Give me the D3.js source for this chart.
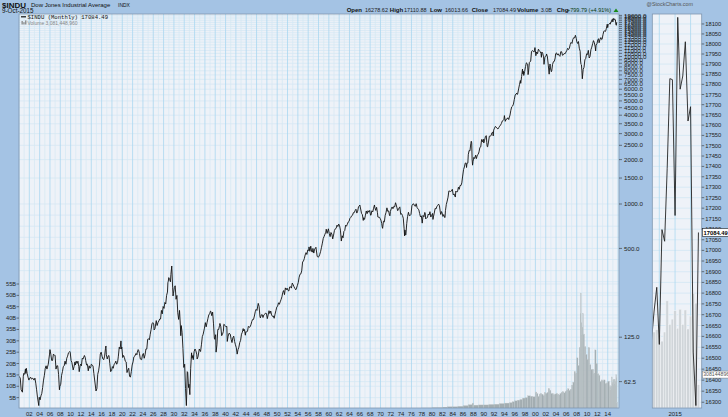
<!DOCTYPE html>
<html><head><meta charset="utf-8">
<script src="https://cdn.jsdelivr.net/npm/d3@7"></script>
<style>
html,body{margin:0;padding:0;background:#a4c3e4;}
svg{display:block;font-family:"Liberation Sans",Arial,sans-serif;}
</style>
</head><body>
<svg id="c" width="728" height="417"></svg>
<script>
// ---------------- DATA ----------------
const djiaMonthly = [
["1900-01",68],["1900-04",66],["1900-06",55],["1900-09",53],["1900-11",68],["1900-12",71],
["1901-02",70],["1901-04",76],["1901-05",71],["1901-06",77],["1901-08",71],["1901-10",67],["1901-12",64],
["1902-02",66],["1902-04",67],["1902-06",65],["1902-09",66],["1902-12",64],
["1903-02",66],["1903-04",61],["1903-06",55],["1903-08",49],["1903-11",43],["1903-12",49],
["1904-02",47],["1904-04",50],["1904-06",52],["1904-08",57],["1904-10",64],["1904-12",69],
["1905-02",77],["1905-04",80],["1905-06",76],["1905-09",82],["1905-12",96],
["1906-01",103],["1906-03",96],["1906-05",87],["1906-07",87],["1906-09",96],["1906-12",94],
["1907-01",94],["1907-03",76],["1907-05",80],["1907-07",80],["1907-09",70],["1907-11",55],["1907-12",58],
["1908-02",60],["1908-04",69],["1908-06",73],["1908-08",79],["1908-10",80],["1908-12",86],
["1909-02",82],["1909-04",90],["1909-06",93],["1909-08",98],["1909-10",99],["1909-11",100],["1909-12",99],
["1910-02",87],["1910-04",84],["1910-07",75],["1910-09",79],["1910-11",85],["1910-12",81],
["1911-02",86],["1911-04",83],["1911-06",86],["1911-08",79],["1911-09",73],["1911-11",80],["1911-12",82],
["1912-02",80],["1912-04",90],["1912-06",89],["1912-09",94],["1912-11",91],["1912-12",87],
["1913-02",81],["1913-04",82],["1913-06",74],["1913-08",80],["1913-10",77],["1913-12",79],
["1914-01",82],["1914-03",81],["1914-05",80],["1914-07",71],["1914-12",54],
["1915-02",56],["1915-04",70],["1915-06",74],["1915-08",81],["1915-10",96],["1915-12",99],
["1916-02",93],["1916-04",89],["1916-06",88],["1916-08",93],["1916-10",105],["1916-11",109],["1916-12",95],
["1917-02",89],["1917-04",93],["1917-06",94],["1917-08",83],["1917-10",73],["1917-12",74],
["1918-02",79],["1918-04",77],["1918-06",82],["1918-08",83],["1918-10",86],["1918-12",82],
["1919-02",84],["1919-04",93],["1919-06",107],["1919-08",104],["1919-10",118],["1919-11",104],["1919-12",107],
["1920-02",91],["1920-04",94],["1920-06",91],["1920-08",86],["1920-10",85],["1920-12",72],
["1921-02",75],["1921-04",77],["1921-06",68],["1921-08",67],["1921-10",73],["1921-12",81],
["1922-02",85],["1922-04",92],["1922-06",93],["1922-09",97],["1922-11",95],["1922-12",99],
["1923-02",103],["1923-03",102],["1923-05",97],["1923-07",89],["1923-10",88],["1923-12",95],
["1924-02",97],["1924-04",90],["1924-06",95],["1924-08",104],["1924-10",104],["1924-12",121],
["1925-02",122],["1925-04",120],["1925-06",131],["1925-08",141],["1925-10",154],["1925-12",157],
["1926-02",154],["1926-03",140],["1926-05",143],["1926-08",162],["1926-10",150],["1926-12",157],
["1927-02",161],["1927-04",166],["1927-06",166],["1927-08",190],["1927-10",180],["1927-12",202],
["1928-02",196],["1928-04",215],["1928-06",210],["1928-08",240],["1928-10",253],["1928-11",293],["1928-12",300],
["1929-01",317],["1929-03",308],["1929-05",297],["1929-06",333],["1929-08",380],["1929-10",273],["1929-11",238],["1929-12",248],
["1930-02",272],["1930-04",279],["1930-06",226],["1930-08",240],["1930-10",183],["1930-12",165],
["1931-02",190],["1931-04",151],["1931-05",128],["1931-06",150],["1931-08",135],["1931-10",105],["1931-12",78],
["1932-02",82],["1932-04",56],["1932-06",43],["1932-07",54],["1932-08",73],["1932-09",72],["1932-11",57],["1932-12",60],
["1933-02",51],["1933-04",77],["1933-06",98],["1933-07",90],["1933-09",94],["1933-10",88],["1933-12",100],
["1934-02",104],["1934-04",101],["1934-06",96],["1934-07",89],["1934-09",92],["1934-12",104],
["1935-02",101],["1935-03",100],["1935-05",111],["1935-07",126],["1935-09",131],["1935-12",144],
["1936-02",157],["1936-04",147],["1936-06",157],["1936-08",167],["1936-10",177],["1936-12",180],
["1937-02",188],["1937-03",187],["1937-05",175],["1937-07",185],["1937-09",154],["1937-11",123],["1937-12",121],
["1938-02",130],["1938-03",99],["1938-05",111],["1938-07",141],["1938-09",141],["1938-11",150],["1938-12",155],
["1939-02",147],["1939-04",128],["1939-06",131],["1939-08",137],["1939-09",153],["1939-12",150],
["1940-02",147],["1940-04",148],["1940-05",117],["1940-07",127],["1940-09",133],["1940-12",131],
["1941-02",121],["1941-04",115],["1941-06",124],["1941-08",127],["1941-10",117],["1941-12",111],
["1942-02",106],["1942-04",96],["1942-06",103],["1942-08",107],["1942-10",115],["1942-12",119],
["1943-02",131],["1943-04",135],["1943-06",143],["1943-07",138],["1943-09",141],["1943-11",129],["1943-12",136],
["1944-02",136],["1944-04",137],["1944-06",148],["1944-08",146],["1944-10",147],["1944-12",152],
["1945-02",160],["1945-04",165],["1945-06",165],["1945-08",174],["1945-10",186],["1945-12",193],
["1946-02",190],["1946-05",212],["1946-07",202],["1946-09",172],["1946-10",169],["1946-12",177],
["1947-02",178],["1947-04",170],["1947-06",177],["1947-08",179],["1947-10",182],["1947-12",181],
["1948-02",167],["1948-04",177],["1948-06",189],["1948-08",181],["1948-10",188],["1948-12",177],
["1949-02",173],["1949-04",174],["1949-06",168],["1949-08",179],["1949-10",189],["1949-12",200],
["1950-02",203],["1950-04",214],["1950-06",209],["1950-08",217],["1950-10",225],["1950-12",235],
["1951-02",252],["1951-04",259],["1951-06",243],["1951-08",270],["1951-10",262],["1951-12",269],
["1952-02",260],["1952-04",257],["1952-06",274],["1952-08",275],["1952-10",269],["1952-12",291],
["1953-02",284],["1953-04",275],["1953-06",268],["1953-08",262],["1953-09",264],["1953-12",281],
["1954-02",294],["1954-04",319],["1954-06",334],["1954-08",336],["1954-10",352],["1954-12",404],
["1955-02",411],["1955-04",426],["1955-06",451],["1955-08",468],["1955-10",455],["1955-12",488],
["1956-02",484],["1956-03",512],["1956-05",478],["1956-07",518],["1956-09",475],["1956-11",473],["1956-12",500],
["1957-02",465],["1957-04",494],["1957-06",503],["1957-07",509],["1957-10",441],["1957-12",436],
["1958-02",440],["1958-04",456],["1958-06",478],["1958-08",509],["1958-10",543],["1958-12",584],
["1959-02",603],["1959-04",624],["1959-06",644],["1959-07",675],["1959-09",632],["1959-12",679],
["1960-02",630],["1960-04",601],["1960-06",641],["1960-08",626],["1960-10",580],["1960-12",616],
["1961-02",662],["1961-04",679],["1961-06",684],["1961-08",719],["1961-10",704],["1961-12",731],
["1962-02",711],["1962-04",665],["1962-06",561],["1962-08",609],["1962-10",590],["1962-12",652],
["1963-02",662],["1963-04",718],["1963-06",707],["1963-08",729],["1963-10",755],["1963-12",763],
["1964-02",800],["1964-04",811],["1964-06",832],["1964-08",839],["1964-10",873],["1964-12",874],
["1965-02",903],["1965-04",922],["1965-06",868],["1965-08",893],["1965-10",960],["1965-12",969],
["1966-01",984],["1966-03",925],["1966-05",864],["1966-07",847],["1966-09",774],["1966-10",807],["1966-12",786],
["1967-02",840],["1967-04",897],["1967-06",860],["1967-08",901],["1967-10",880],["1967-12",905],
["1968-02",840],["1968-03",840],["1968-05",899],["1968-07",883],["1968-09",936],["1968-11",985],["1968-12",944],
["1969-02",905],["1969-04",950],["1969-06",873],["1969-07",816],["1969-09",813],["1969-11",812],["1969-12",800],
["1970-02",778],["1970-04",736],["1970-05",700],["1970-06",684],["1970-08",765],["1970-10",756],["1970-12",839],
["1971-02",879],["1971-04",942],["1971-06",892],["1971-08",898],["1971-10",839],["1971-11",831],["1971-12",890],
["1972-02",928],["1972-04",955],["1972-06",929],["1972-08",964],["1972-10",956],["1972-12",1020],
["1973-01",999],["1973-03",951],["1973-05",901],["1973-07",926],["1973-09",947],["1973-10",956],["1973-12",851],
["1974-02",860],["1974-04",837],["1974-06",802],["1974-08",679],["1974-09",608],["1974-10",666],["1974-11",619],["1974-12",616],
["1975-02",739],["1975-04",821],["1975-06",879],["1975-08",835],["1975-10",836],["1975-12",852],
["1976-02",973],["1976-04",997],["1976-06",1003],["1976-08",974],["1976-10",965],["1976-12",1005],
["1977-02",947],["1977-04",927],["1977-06",916],["1977-08",862],["1977-10",818],["1977-12",831],
["1978-02",742],["1978-04",837],["1978-06",819],["1978-08",877],["1978-09",866],["1978-10",793],["1978-12",805],
["1979-02",809],["1979-04",855],["1979-06",842],["1979-08",887],["1979-10",816],["1979-12",839],
["1980-02",863],["1980-03",786],["1980-04",817],["1980-06",868],["1980-08",933],["1980-10",925],["1980-12",964],
["1981-02",975],["1981-04",998],["1981-06",977],["1981-08",882],["1981-09",850],["1981-11",889],["1981-12",875],
["1982-02",824],["1982-04",848],["1982-06",812],["1982-07",809],["1982-08",901],["1982-10",992],["1982-12",1047],
["1983-02",1113],["1983-04",1226],["1983-06",1222],["1983-08",1216],["1983-10",1225],["1983-12",1259],
["1984-02",1155],["1984-04",1171],["1984-06",1132],["1984-07",1115],["1984-08",1224],["1984-10",1207],["1984-12",1212],
["1985-02",1300],["1985-04",1258],["1985-06",1336],["1985-08",1334],["1985-10",1390],["1985-12",1547],
["1986-02",1709],["1986-04",1784],["1986-06",1893],["1986-08",1898],["1986-09",1768],["1986-10",1878],["1986-12",1896],
["1987-01",2158],["1987-03",2305],["1987-05",2292],["1987-07",2573],["1987-08",2663],["1987-09",2596],["1987-10",1994],["1987-11",1834],["1987-12",1939],
["1988-02",2072],["1988-04",2033],["1988-06",2142],["1988-08",2032],["1988-10",2149],["1988-12",2169],
["1989-02",2259],["1989-04",2419],["1989-06",2440],["1989-08",2737],["1989-09",2693],["1989-10",2645],["1989-12",2753],
["1990-01",2591],["1990-03",2707],["1990-05",2877],["1990-07",2905],["1990-08",2614],["1990-09",2453],["1990-10",2442],["1990-12",2634],
["1991-02",2882],["1991-04",2888],["1991-06",2907],["1991-08",3044],["1991-10",3069],["1991-11",2895],["1991-12",3169],
["1992-02",3267],["1992-04",3359],["1992-06",3319],["1992-08",3257],["1992-10",3226],["1992-12",3301],
["1993-02",3371],["1993-04",3428],["1993-06",3516],["1993-08",3651],["1993-10",3681],["1993-12",3754],
["1994-01",3978],["1994-03",3636],["1994-05",3758],["1994-07",3765],["1994-09",3843],["1994-11",3739],["1994-12",3834],
["1995-02",4011],["1995-04",4321],["1995-06",4556],["1995-08",4611],["1995-10",4756],["1995-12",5117],
["1996-02",5485],["1996-04",5569],["1996-06",5655],["1996-07",5529],["1996-08",5616],["1996-10",6029],["1996-12",6448],
["1997-02",6877],["1997-03",6584],["1997-05",7331],["1997-07",8223],["1997-08",7622],["1997-09",7945],["1997-10",7442],["1997-12",7908],
["1998-02",8546],["1998-04",9063],["1998-06",8952],["1998-07",8883],["1998-08",7539],["1998-09",7843],["1998-11",9117],["1998-12",9181],
["1999-02",9307],["1999-04",10789],["1999-06",10971],["1999-08",10829],["1999-10",10729],["1999-12",11497],
["2000-01",10941],["2000-02",10128],["2000-04",10734],["2000-06",10448],["2000-08",11215],["2000-10",10971],["2000-12",10788],
["2001-02",10495],["2001-03",9879],["2001-04",10735],["2001-06",10502],["2001-08",9950],["2001-09",8848],["2001-11",9852],["2001-12",10022],
["2002-02",10106],["2002-03",10404],["2002-05",9925],["2002-07",8737],["2002-09",7592],["2002-10",8397],["2002-11",8896],["2002-12",8342],
["2003-02",7891],["2003-03",7992],["2003-05",8850],["2003-07",9233],["2003-09",9275],["2003-11",9782],["2003-12",10454],
["2004-02",10584],["2004-04",10226],["2004-06",10435],["2004-08",10174],["2004-10",10027],["2004-12",10783],
["2005-02",10766],["2005-04",10193],["2005-06",10275],["2005-08",10482],["2005-10",10440],["2005-12",10718],
["2006-02",10993],["2006-04",11367],["2006-06",11150],["2006-08",11381],["2006-10",12081],["2006-12",12463],
["2007-02",12269],["2007-04",13063],["2007-06",13409],["2007-08",13358],["2007-10",13930],["2007-12",13265],
["2008-01",12650],["2008-03",12263],["2008-05",12638],["2008-07",11378],["2008-09",10851],["2008-10",9325],["2008-11",8829],["2008-12",8776],
["2009-01",8001],["2009-02",7063],["2009-04",8168],["2009-06",8447],["2009-08",9496],["2009-10",9713],["2009-12",10428],
["2010-02",10325],["2010-04",11009],["2010-06",9774],["2010-08",10015],["2010-10",11118],["2010-12",11578],
["2011-02",12226],["2011-04",12811],["2011-06",12414],["2011-08",11614],["2011-09",10913],["2011-10",11955],["2011-12",12218],
["2012-02",12952],["2012-04",13214],["2012-05",12393],["2012-07",13009],["2012-09",13437],["2012-11",13026],["2012-12",13104],
["2013-02",14054],["2013-04",14840],["2013-06",14910],["2013-08",14810],["2013-10",15546],["2013-12",16577],
["2014-01",15699],["2014-02",16322],["2014-03",16458],["2014-04",16581],["2014-05",16717],["2014-06",16827],
["2014-07",16563],["2014-08",17098],["2014-09",17043],["2014-10",17391],["2014-11",17828],["2014-12",17823],
["2015-01",17165],["2015-02",18133],["2015-03",17776],["2015-04",17841],["2015-05",18011],["2015-06",17620],
["2015-07",17690],["2015-08",16528],["2015-09",16285],["2015-10",17084.49]
];

// volume, billions of shares per month (long history, coarse periods)
const volumeHistory = [
["1960-01",0.08],["1965-01",0.12],["1970-01",0.2],["1975-01",0.3],["1978-01",0.45],["1980-01",0.6],
["1982-01",0.8],["1983-01",1.0],["1984-01",1.0],["1985-01",1.2],["1986-01",1.5],["1987-01",1.9],["1987-10",2.6],
["1988-01",1.7],["1989-01",1.8],["1990-01",1.8],["1991-01",2.0],["1992-01",2.1],["1993-01",2.4],["1994-01",2.6],
["1995-01",2.8],["1995-07",3.2],["1996-01",3.6],["1996-07",3.9],["1997-01",4.2],["1997-07",4.8],["1998-01",5.0],
["1998-07",5.8],["1999-01",5.6],["1999-07",5.4],["2000-01",7.5],["2000-04",6.8],["2000-07",5.6],["2000-10",6.6],
["2001-01",6.8],["2001-04",6.5],["2001-07",5.9],["2001-10",7.2],["2002-01",6.9],["2002-04",7.2],["2002-07",9.0],
["2002-10",8.2],["2003-01",7.0],["2003-04",6.8],["2003-07",6.3],["2003-10",6.6],["2004-01",7.0],["2004-04",6.6],
["2004-07",6.2],["2004-10",6.9],["2005-01",7.4],["2005-04",7.6],["2005-07",7.1],["2005-10",7.8],["2006-01",8.4],
["2006-04",8.9],["2006-07",8.2],["2006-10",8.7],["2007-01",10.5],["2007-04",11.8],["2007-07",16.5],["2007-10",15.8],
["2008-01",22.5],["2008-04",19.0],["2008-07",27.0],["2008-09",42.0],["2008-10",51.0],["2008-11",38.0],["2008-12",33.0],
["2009-01",36.0],["2009-03",42.0],["2009-04",33.0],["2009-07",27.5],["2009-10",24.0],["2010-01",22.0],["2010-04",27.0],
["2010-07",19.5],["2010-10",17.5],["2011-01",17.5],["2011-04",15.8],["2011-07",26.0],["2011-10",20.0],["2012-01",15.5],
["2012-04",14.8],["2012-07",12.0],["2012-10",12.8],["2013-01",12.5],["2013-04",12.8],["2013-07",11.2],["2013-10",11.5],
["2014-01",12.2]
];
// recent monthly volume (billions), May 2014 - Oct 2015 (Oct partial)
const volumeRecent = [
["2014-05",10.0],["2014-06",10.3],["2014-07",9.6],["2014-08",8.8],["2014-09",10.0],["2014-10",14.1],
["2014-11",11.0],["2014-12",11.7],["2015-01",12.8],["2015-02",10.5],["2015-03",13.0],["2015-04",11.0],
["2015-05",12.9],["2015-06",10.4],["2015-07",12.1],["2015-08",15.1],["2015-09",13.8],["2015-10",3.08]
];

const priceTicks = [62.5,125,500,1000,1500,2000,2500,3000,3500,4000,4500,5000,5500,6000,6500,7000,7500,8000,8500,9000,
  9500,10000,10500,11000,11500,12000,12500,13000,13500,14000,14500,15000,15500,16000,16500,17000,17500,18000,18500,19000];
const volumeTicks = [5,10,15,20,25,30,35,40,45,50,55];
const yearLabels = [1902,1904,1906,1908,1910,1912,1914,1916,1918,1920,1922,1924,1926,1928,1930,1932,1934,1936,1938,1940,
  1942,1944,1946,1948,1950,1952,1954,1956,1958,1960,1962,1964,1966,1968,1970,1972,1974,1976,1978,1980,1982,1984,1986,
  1988,1990,1992,1994,1996,1998,2000,2002,2004,2006,2008,2010,2012,2014];
const zoomTicks = [16300,16350,16400,16450,16500,16550,16600,16650,16700,16750,16800,16850,16900,16950,17000,17050,17100,
  17150,17200,17250,17300,17350,17400,17450,17500,17550,17600,17650,17700,17750,17800,17850,17900,17950,18000,18050,18100];
const headerItems = [["Open","16278.62"],["High","17110.88"],["Low","16013.66"],["Close","17084.49"],["Volume","3.0B"],["Chg","+799.79 (+4.91%)"]];
const lastClose = 17084.49, lastVolume = 3081448960;

// ---------------- DRAWING ----------------
const svg = d3.select("#c");
const parse = s => { const [y,m] = s.split("-"); return new Date(Date.UTC(+y, +m-1, 1)); };
const price = djiaMonthly.map(([d,v]) => ({date: parse(d), v}));
const volAll = volumeHistory.concat(volumeRecent).map(([d,v]) => ({date: parse(d), v}));
const volRecent = volumeRecent.map(([d,v]) => ({date: parse(d), v}));

const M = {l:19, r:619, t:14, b:408};
const R = {l:652.3, r:701.7, t:14, b:408};

const x = d3.scaleUtc().domain([new Date(Date.UTC(1900,0,1)), new Date(Date.UTC(2016,2,10))]).range([M.l, M.r]);
const y = d3.scaleLog().domain([41.4, 19420]).range([M.b, M.t]);
const yV = d3.scaleLinear().domain([0,55]).range([409,284]);

const xr = d3.scaleUtc().domain([new Date(Date.UTC(2014,3,10)), new Date(Date.UTC(2015,10,8))]).range([R.l, R.r]);
const yr = d3.scaleLog().domain([16274, 18150]).range([R.b, R.t]);
const yrV = d3.scaleLinear().domain([0,15]).range([408,294]);

svg.append("rect").attr("width",728).attr("height",417).attr("fill","#a4c3e4");

const defs = svg.append("defs");
defs.append("clipPath").attr("id","mclip").append("rect").attr("x",M.l).attr("y",M.t).attr("width",M.r-M.l).attr("height",M.b-M.t);
defs.append("clipPath").attr("id","rclip").append("rect").attr("x",R.l).attr("y",R.t).attr("width",R.r-R.l).attr("height",R.b-R.t);

// ---- main panel
svg.append("rect").attr("x",M.l).attr("y",M.t).attr("width",M.r-M.l).attr("height",M.b-M.t).attr("fill","#eef2f8");
const gm = svg.append("g").attr("clip-path","url(#mclip)");

// horizontal grid
const hGrid = [];
for (let k=0;k<=16;k++) hGrid.push(62.5*Math.pow(2,k/4));
priceTicks.filter(t=>t>1000).forEach(t=>hGrid.push(t));
gm.selectAll("line.hg").data(hGrid).join("line")
  .attr("x1",M.l).attr("x2",M.r).attr("y1",d=>y(d)).attr("y2",d=>y(d))
  .attr("stroke","#d3e6f3").attr("stroke-width",0.7);
gm.selectAll("line.vg2").data(volumeTicks).join("line")
  .attr("x1",M.l).attr("x2",M.r).attr("y1",d=>yV(d)).attr("y2",d=>yV(d))
  .attr("stroke","#d3e6f3").attr("stroke-width",0.7);
// vertical grid
const years = d3.range(1900,2017);
gm.selectAll("line.vgo").data(years.filter(yy=>yy%2)).join("line")
  .attr("x1",d=>x(new Date(Date.UTC(d,0,1)))).attr("x2",d=>x(new Date(Date.UTC(d,0,1))))
  .attr("y1",M.t).attr("y2",M.b).attr("stroke","#d4e8f4").attr("stroke-width",0.7);
gm.selectAll("line.vge").data(years.filter(yy=>yy%2===0)).join("line")
  .attr("x1",d=>x(new Date(Date.UTC(d,0,1)))).attr("x2",d=>x(new Date(Date.UTC(d,0,1))))
  .attr("y1",M.t).attr("y2",M.b).attr("stroke","#a9d7f0").attr("stroke-width",0.8);

// volume bars
gm.selectAll("rect.vb").data(volAll).join("rect")
  .attr("x",d=>x(d.date))
  .attr("width",(d,i)=>{ const nx = i<volAll.length-1 ? volAll[i+1].date : new Date(Date.UTC(2015,10,1)); return Math.max(0.6, x(nx)-x(d.date)); })
  .attr("y",d=>yV(d.v)).attr("height",d=>409-yV(d.v))
  .attr("fill","#a3adb1").attr("stroke","#c3cbce").attr("stroke-width",0.3);

// price line
gm.append("path").datum(price)
  .attr("d", d3.line().x(d=>x(d.date)).y(d=>y(d.v)))
  .attr("fill","none").attr("stroke","#111").attr("stroke-width",0.9).attr("stroke-linejoin","round");

svg.append("rect").attr("x",M.l).attr("y",M.t).attr("width",M.r-M.l).attr("height",M.b-M.t)
  .attr("fill","none").attr("stroke","#8097b0").attr("stroke-width",0.8);

// right price axis
const ax = svg.append("g");
ax.selectAll("line").data(priceTicks).join("line")
  .attr("x1",M.r).attr("x2",M.r+3).attr("y1",d=>y(d)).attr("y2",d=>y(d)).attr("stroke","#333").attr("stroke-width",0.6);
ax.selectAll("text").data(priceTicks).join("text")
  .attr("x",M.r+5).attr("y",d=>y(d)).attr("dy","0.35em")
  .attr("font-size",6.2).attr("fill","#222").text(d=>d3.format(".1f")(d));

// left volume axis
const lax = svg.append("g");
lax.selectAll("line").data(volumeTicks).join("line")
  .attr("x1",M.l-2.5).attr("x2",M.l).attr("y1",d=>yV(d)).attr("y2",d=>yV(d)).attr("stroke","#333").attr("stroke-width",0.6);
lax.selectAll("text").data(volumeTicks).join("text")
  .attr("x",M.l-3).attr("y",d=>yV(d)).attr("dy","0.35em").attr("text-anchor","end")
  .attr("font-size",5.6).attr("fill","#222").text(d=>d+"B");

// x labels
svg.append("g").selectAll("text").data(yearLabels).join("text")
  .attr("x",d=>x(new Date(Date.UTC(d,0,1)))).attr("y",416).attr("text-anchor","middle")
  .attr("font-size",6).attr("fill","#222").text(d=>String(d).slice(2));

// legend in panel
svg.append("line").attr("x1",21).attr("x2",26).attr("y1",16.8).attr("y2",16.8).attr("stroke","#111").attr("stroke-width",1.2);
svg.append("text").attr("x",27.5).attr("y",18.8).attr("font-family","'Liberation Mono','DejaVu Sans Mono',monospace")
  .attr("font-size",5.6).attr("fill","#111").text("$INDU (Monthly) " + d3.format(".2f")(lastClose));
svg.append("rect").attr("x",21.5).attr("y",21).attr("width",1.3).attr("height",3.5).attr("fill","#888");
svg.append("rect").attr("x",23.3).attr("y",22.2).attr("width",1.3).attr("height",2.3).attr("fill","#888");
svg.append("rect").attr("x",25.1).attr("y",20.4).attr("width",1.3).attr("height",4.1).attr("fill","#888");
svg.append("text").attr("x",27.5).attr("y",24.6).attr("font-size",5).attr("fill","#888")
  .text("Volume " + d3.format(",")(lastVolume));

// ---- right zoom panel
svg.append("rect").attr("x",R.l).attr("y",R.t).attr("width",R.r-R.l).attr("height",R.b-R.t).attr("fill","#eef2f8");
const gr = svg.append("g").attr("clip-path","url(#rclip)");
gr.selectAll("line.h").data(zoomTicks).join("line")
  .attr("x1",R.l).attr("x2",R.r).attr("y1",d=>yr(d)).attr("y2",d=>yr(d)).attr("stroke","#cfe5f3").attr("stroke-width",0.7);
const zoomV = [new Date(Date.UTC(2014,6,1)), new Date(Date.UTC(2015,0,1)), new Date(Date.UTC(2015,6,1))];
gr.selectAll("line.v").data(zoomV).join("line")
  .attr("x1",d=>xr(d)).attr("x2",d=>xr(d)).attr("y1",R.t).attr("y2",R.b).attr("stroke","#acd8f0").attr("stroke-width",0.8);
const bw = xr(new Date(Date.UTC(2015,1,1))) - xr(new Date(Date.UTC(2015,0,1)));
gr.selectAll("rect.b").data(volRecent).join("rect")
  .attr("x",d=>xr(d.date)-bw/2).attr("width",bw)
  .attr("y",d=>yrV(d.v)).attr("height",d=>408-yrV(d.v))
  .attr("fill","#d0d5d9").attr("stroke","#f3f5f8").attr("stroke-width",0.5);
gr.append("path").datum(price.filter(d=>d.date>=new Date(Date.UTC(2014,2,1))))
  .attr("d", d3.line().x(d=>xr(d.date)).y(d=>yr(d.v)))
  .attr("fill","none").attr("stroke","#222").attr("stroke-width",0.9).attr("stroke-linejoin","round");
svg.append("rect").attr("x",R.l).attr("y",R.t).attr("width",R.r-R.l).attr("height",R.b-R.t)
  .attr("fill","none").attr("stroke","#8097b0").attr("stroke-width",0.8);

const rax = svg.append("g");
rax.selectAll("line").data(zoomTicks).join("line")
  .attr("x1",R.r).attr("x2",R.r+2.5).attr("y1",d=>yr(d)).attr("y2",d=>yr(d)).attr("stroke","#333").attr("stroke-width",0.6);
rax.selectAll("text").data(zoomTicks).join("text")
  .attr("x",R.r+3.5).attr("y",d=>yr(d)).attr("dy","0.35em").attr("font-size",5.8).attr("fill","#222").text(d=>d);
svg.append("text").attr("x",xr(new Date(Date.UTC(2015,0,1)))).attr("y",416).attr("text-anchor","middle")
  .attr("font-size",6).attr("fill","#222").text("2015");

// last price box
const ly = yr(lastClose);
svg.append("rect").attr("x",R.r+0.8).attr("y",ly-3.8).attr("width",27).attr("height",7.6)
  .attr("fill","#fff").attr("stroke","#222").attr("stroke-width",0.6);
svg.append("text").attr("x",R.r+1.8).attr("y",ly).attr("dy","0.36em").attr("font-size",5.8).attr("font-weight","bold")
  .attr("fill","#000").text(d3.format(".2f")(lastClose));
// last volume box
const lvy = yrV(lastVolume/1e9) - 10;
svg.append("rect").attr("x",R.r+0.8).attr("y",lvy-3.5).attr("width",28).attr("height",7)
  .attr("fill","#fff").attr("stroke","#777").attr("stroke-width",0.5);
svg.append("text").attr("x",R.r+1.5).attr("y",lvy).attr("dy","0.36em").attr("font-size",5.2)
  .attr("fill","#555").text(String(lastVolume));

// ---- header
svg.append("text").attr("x",2).attr("y",7.5).attr("font-size",8).attr("font-weight","bold").attr("fill","#111").text("$INDU");
svg.append("text").attr("x",31).attr("y",7.3).attr("font-size",6).attr("fill","#111").text("Dow Jones Industrial Average");
svg.append("text").attr("x",118).attr("y",7.3).attr("font-size",5).attr("fill","#111").text("INDX");
svg.append("text").attr("x",2).attr("y",12.6).attr("font-size",6.3).attr("fill","#111").text("9-Oct-2015");

const hx = [346.7, 389.8, 430, 471.7, 517, 556.7];
const hvx = [365, 404, 445, 493, 540.7, 567];
headerItems.forEach(([lab,val],i)=>{
  svg.append("text").attr("x",hx[i]).attr("y",12.3).attr("font-size",6).attr("font-weight","bold").attr("fill","#111").text(lab);
  svg.append("text").attr("x",hvx[i]).attr("y",12.3).attr("font-size",5.5).attr("fill", i===5 ? "#0a3a0a" : "#222").text(val);
});
svg.append("path").attr("d","M613.5,12 L616,8.5 L618.5,12 Z").attr("fill","#1a8a1a");
svg.append("text").attr("x",646.5).attr("y",5.6).attr("font-size",5.4).attr("fill","#555").text("@StockCharts.com");
</script>
</body></html>
